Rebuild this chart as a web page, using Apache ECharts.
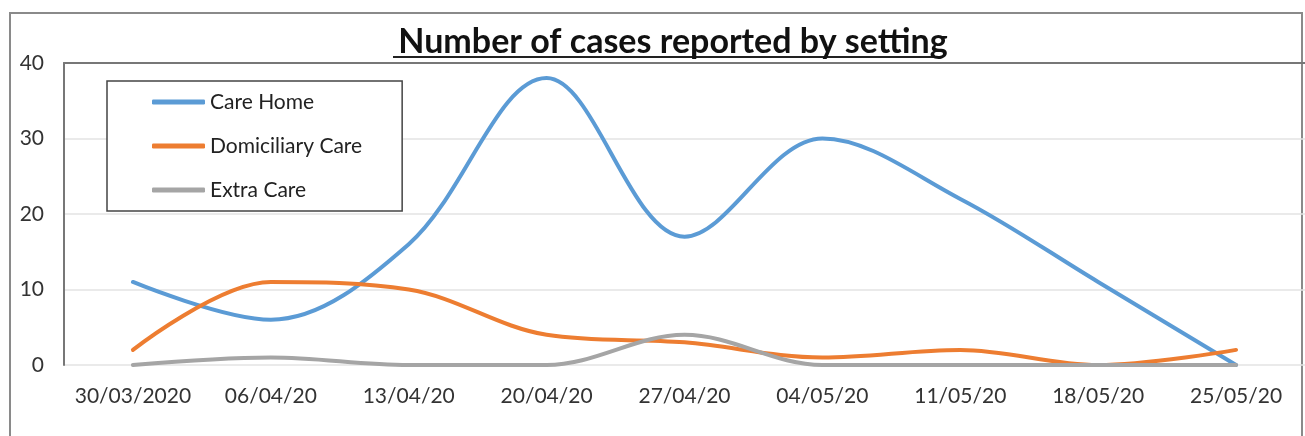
<!DOCTYPE html>
<html>
<head>
<meta charset="utf-8">
<script src="https://cdn.jsdelivr.net/npm/echarts@6/dist/echarts.min.js"></script>
<style>html,body{margin:0;padding:0;background:#fff}#c{width:1305px;height:436px}</style>
</head>
<body>
<div id="c"></div>
<script>
const categories = ['30/03/2020','06/04/20','13/04/20','20/04/20','27/04/20','04/05/20','11/05/20','18/05/20','25/05/20'];
const careHome = [11, 6, 16, 38, 17, 30, 22, 11, 0];
const domiciliaryCare = [2, 11, 10, 4, 3, 1, 2, 0, 2];
const extraCare = [0, 1, 0, 0, 4, 0, 0, 0, 0];
const yTicks = [0, 10, 20, 30, 40];
const titleText = 'Number of cases reported by setting';

const chart = echarts.init(document.getElementById('c'));
const FONT = 'Lato, "Open Sans", sans-serif';
function line(name, data, color) {
  return {
    name, type: 'line', data, smooth: 0.35, symbol: 'none',
    lineStyle: { color, width: 4, cap: 'round' }, itemStyle: { color },
    xAxisIndex: 0, z: 3
  };
}
chart.setOption({
  animation: false,
  backgroundColor: '#fff',
  title: {
    text: titleText, left: 668, textAlign: 'center', top: 20,
    textStyle: { fontFamily: FONT, fontWeight: 'bold', fontSize: 34, color: '#111' }
  },
  graphic: [
    { type: 'rect', shape: { x: 10, y: 13, width: 1292, height: 440 },
      style: { fill: null, stroke: '#8a8a8a', lineWidth: 2 }, z: 0 },
    { type: 'line', shape: { x1: 393, y1: 57, x2: 943, y2: 57 },
      style: { stroke: '#222', lineWidth: 2 }, z: 5 }
  ],
  legend: {
    orient: 'vertical', left: 107, top: 81,
    data: ['Care Home','Domiciliary Care','Extra Care'],
    icon: 'roundRect', itemWidth: 53, itemHeight: 5, itemGap: 20,
    padding: [9, 40, 9, 45],
    backgroundColor: '#fff', borderColor: '#444', borderWidth: 1.5, borderRadius: 0,
    textStyle: { fontFamily: FONT, fontSize: 21, color: '#222', lineHeight: 24 }
  },
  grid: { left: 64, right: -8, top: 63, bottom: 71 },
  xAxis: [
    { type: 'category', data: categories, boundaryGap: true,
      axisLine: { show: false }, axisTick: { show: false },
      axisLabel: { fontFamily: FONT, fontSize: 21, color: '#333', margin: 21, interval: 0 } },
    { type: 'category', data: categories, position: 'top', boundaryGap: true,
      axisLine: { show: true, lineStyle: { color: '#777', width: 2 } },
      axisTick: { show: false }, axisLabel: { show: false } }
  ],
  yAxis: {
    type: 'value', min: yTicks[0], max: yTicks[yTicks.length - 1], interval: 10,
    axisLine: { show: true, lineStyle: { color: '#777', width: 2 } },
    axisTick: { show: false },
    axisLabel: { fontFamily: FONT, fontSize: 21, color: '#333', margin: 20 },
    splitLine: { lineStyle: { color: '#e3e3e3', width: 1.5 } }
  },
  series: [
    line('Care Home', careHome, '#5b9bd5'),
    line('Domiciliary Care', domiciliaryCare, '#ed7d31'),
    line('Extra Care', extraCare, '#a5a5a5')
  ]
});
</script>
</body>
</html>
